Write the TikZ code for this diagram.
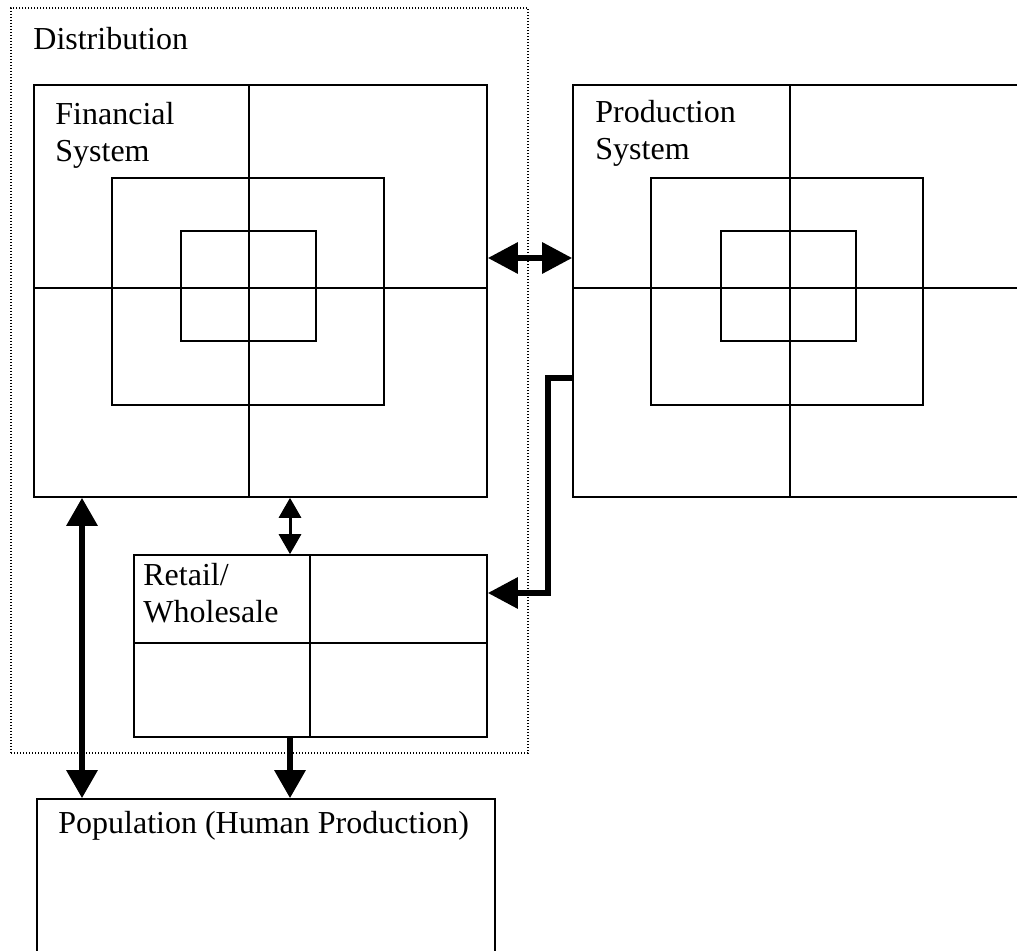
\documentclass[tikz,border=0pt]{standalone}
\usepackage{fontspec}
\setmainfont{Liberation Serif}
\usetikzlibrary{arrows.meta,fit}
\tikzset{
  sysbox/.style={draw, line width=0.8pt, inner sep=0pt},
  boxtext/.style={anchor=base west, inner sep=0pt, align=left, font=\fontsize{16}{18.5}\selectfont},
  heavy/.style={line width=3pt},
  bigtip/.tip={Triangle[length=14pt,width=15pt]},
  smalltip/.tip={Triangle[length=10pt,width=11pt]},
}
\begin{document}
\begin{tikzpicture}[x=0.5pt, y=-0.5pt, line join=miter]
\path[clip, use as bounding box] (0,0) rectangle (1017,951);
% Distribution (dotted frame)
\node[draw, dash pattern=on 0.6pt off 0.9pt, line width=0.6pt, inner sep=0pt, fit={(11,8) (528,753)}] (dist) {};
\node[boxtext] (tdist) at (33,50) {Distribution};
% Financial System
\node[sysbox, fit={(34,85) (487,497)}] (fin) {};
\coordinate (fc) at (249,288);
\draw[line width=0.8pt] (fin.north -| fc) -- (fin.south -| fc);
\draw[line width=0.8pt] (fin.west |- fc) -- (fin.east |- fc);
\draw[line width=0.8pt] ([shift={(-137,-110)}]fc) rectangle ([shift={(135,117)}]fc);
\draw[line width=0.8pt] ([shift={(-68,-57)}]fc) rectangle ([shift={(67,53)}]fc);
\node[boxtext] (tfin) at (55,162) {Financial\\System};
% Production System (runs off the right edge)
\node[sysbox, fit={(573,85) (1040,497)}] (prod) {};
\coordinate (pc) at (790,288);
\draw[line width=0.8pt] (prod.north -| pc) -- (prod.south -| pc);
\draw[line width=0.8pt] (prod.west |- pc) -- (prod.east |- pc);
\draw[line width=0.8pt] ([shift={(-139,-110)}]pc) rectangle ([shift={(133,117)}]pc);
\draw[line width=0.8pt] ([shift={(-69,-57)}]pc) rectangle ([shift={(66,53)}]pc);
\node[boxtext] (tprod) at (595,160) {Production\\System};
% Retail/Wholesale
\node[sysbox, fit={(134,555) (487,737)}] (retail) {};
\coordinate (rc) at (310,643);
\draw[line width=0.8pt] (retail.north -| rc) -- (retail.south -| rc);
\draw[line width=0.8pt] (retail.west |- rc) -- (retail.east |- rc);
\node[boxtext] (tret) at (143,623) {Retail/\\Wholesale};
% Population (runs off the bottom edge)
\node[sysbox, fit={(37,799) (495,990)}] (pop) {};
\node[boxtext] (tpop) at (58,833) {Population (Human Production)};
% connectors
\coordinate (fp) at (530,258);
\coordinate (bend) at (548,378);
\coordinate (rin) at (548,593);
\coordinate (px) at (82,0);
\coordinate (rx) at (290,0);
\draw[heavy, {Triangle[length=15pt,width=15pt]}-{Triangle[length=15pt,width=15pt]}] (fp -| fin.east) -- (fp -| prod.west);
\draw[heavy, -{Triangle[length=15pt,width=15pt]}] (prod.west |- bend) -- (bend) -- (rin) -- (rin -| retail.east);
\draw[heavy, bigtip-bigtip] (px |- fin.south) -- (px |- pop.north);
\draw[line width=1.5pt, smalltip-smalltip] (rx |- fin.south) -- (rx |- retail.north);
\draw[heavy, -bigtip] (rx |- retail.south) -- (rx |- pop.north);
\end{tikzpicture}
\end{document}
